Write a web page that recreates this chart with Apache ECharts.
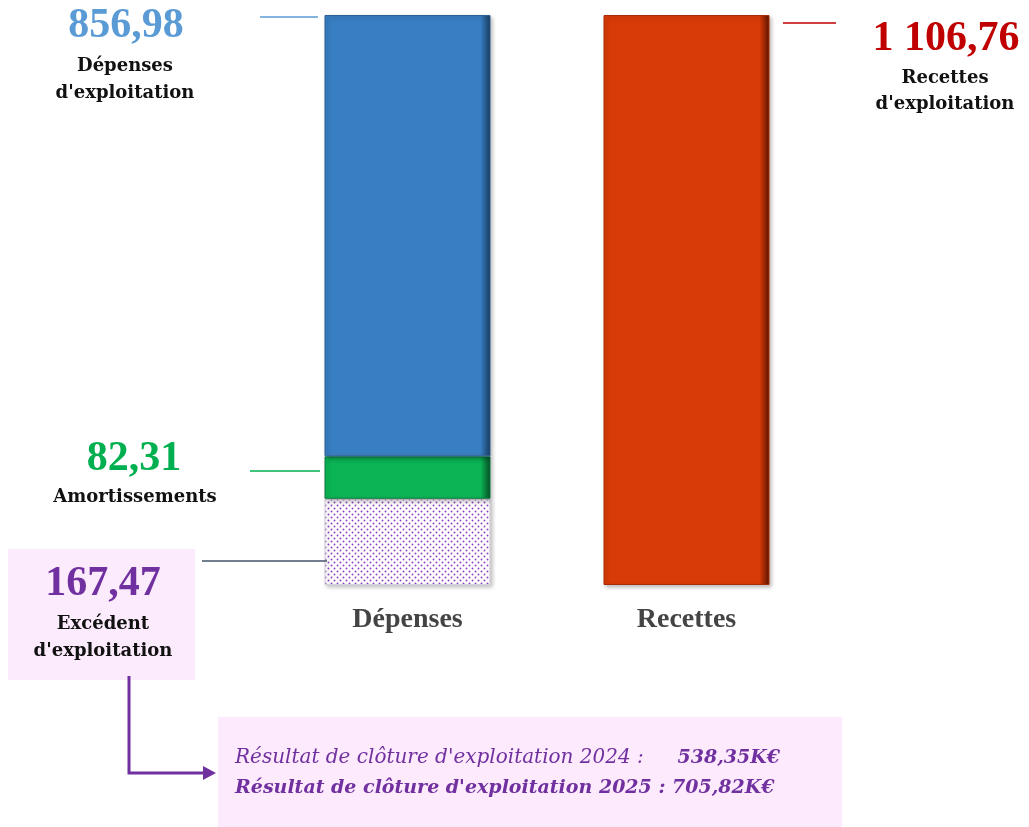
<!DOCTYPE html>
<html>
<head>
<meta charset="utf-8">
<script src="https://cdn.jsdelivr.net/npm/echarts@6/dist/echarts.min.js"></script>
<style>
html,body{margin:0;padding:0;background:#fff;}
#c{width:1029px;height:827px;}
</style>
</head>
<body>
<div id="c"></div>
<script>
// ---- data ----
const categories = ['Dépenses', 'Recettes'];
const excedent = [167.47, null];
const amortissements = [82.31, null];
const depensesExpl = [856.98, null];
const recettesExpl = [null, 1106.76];
const resultat2024 = '538,35K€';
const resultat2025 = '705,82K€';

function fr(v) {
  const parts = v.toFixed(2).split('.');
  parts[0] = parts[0].replace(/\B(?=(\d{3})+(?!\d))/g, ' ');
  return parts.join(',');
}

// dotted pattern for excédent
const pc = document.createElement('canvas');
pc.width = 6; pc.height = 6;
const px = pc.getContext('2d');
px.fillStyle = '#ffffff'; px.fillRect(0, 0, 6, 6);
px.fillStyle = '#8e44c0';
px.beginPath(); px.arc(1.5, 1.5, 0.95, 0, Math.PI * 2); px.fill();
px.beginPath(); px.arc(4.5, 4.5, 0.95, 0, Math.PI * 2); px.fill();

function bevel(c, dark) {
  return {
    type: 'linear', x: 0, y: 0, x2: 1, y2: 0,
    colorStops: [
      {offset: 0, color: c}, {offset: 0.94, color: c}, {offset: 1, color: dark}
    ]
  };
}
const shadow = {shadowColor: 'rgba(0,0,0,0.25)', shadowBlur: 4, shadowOffsetX: 2, shadowOffsetY: 2};

const total = depensesExpl[0] + amortissements[0] + excedent[0];
const chart = echarts.init(document.getElementById('c'));
const serif = '"Liberation Serif", "Times New Roman", serif';
const serif2 = '"DejaVu Serif", serif';

chart.setOption({
  animation: false,
  grid: {left: 268, right: 203, top: 15, bottom: 242},
  xAxis: {
    type: 'category', data: categories,
    axisLine: {show: false}, axisTick: {show: false},
    axisLabel: {color: '#444', fontFamily: serif, fontWeight: 'bold', fontSize: 28, margin: 21}
  },
  yAxis: {type: 'value', min: 0, max: Math.max(total, recettesExpl[1]), show: false, splitLine: {show: false}},
  series: [
    {name: 'Excédent', type: 'bar', stack: 's', barWidth: 166, data: excedent,
     itemStyle: Object.assign({color: {image: pc, repeat: 'repeat'}, borderColor: '#d8d0dc', borderWidth: 1}, shadow)},
    {name: 'Amortissements', type: 'bar', stack: 's', barWidth: 166, data: amortissements,
     itemStyle: Object.assign({color: bevel('#0bb454', '#064d25'), borderColor: '#0a7a3c', borderWidth: 1}, shadow)},
    {name: "Dépenses d'exploitation", type: 'bar', stack: 's', barWidth: 166, data: depensesExpl,
     itemStyle: Object.assign({color: bevel('#387ec2', '#173a5c'), borderColor: '#2a5f94', borderWidth: 1}, shadow)},
    {name: "Recettes d'exploitation", type: 'bar', stack: 's', barWidth: 166, data: recettesExpl,
     itemStyle: Object.assign({color: bevel('#d83a08', '#5a1300'), borderColor: '#a82c06', borderWidth: 1}, shadow)}
  ],
  graphic: [
    // boxes
    {type: 'rect', shape: {x: 8, y: 549, width: 187, height: 131}, style: {fill: '#fcebfc'}, z: 1},
    {type: 'rect', shape: {x: 218, y: 717, width: 624, height: 110}, style: {fill: '#fdebfd'}, z: 1},
    // leader lines
    {type: 'line', shape: {x1: 260, y1: 17, x2: 318, y2: 17}, style: {stroke: '#5b9bd5', lineWidth: 1.5}, z: 5},
    {type: 'line', shape: {x1: 783, y1: 23, x2: 836, y2: 23}, style: {stroke: '#c00000', lineWidth: 1.5}, z: 5},
    {type: 'line', shape: {x1: 250, y1: 471, x2: 320, y2: 471}, style: {stroke: '#00b050', lineWidth: 1.5}, z: 5},
    {type: 'line', shape: {x1: 202, y1: 561, x2: 327, y2: 561}, style: {stroke: '#44546a', lineWidth: 1.5}, z: 5},
    // arrow
    {type: 'polyline', shape: {points: [[129, 676], [129, 773], [205, 773]]}, style: {stroke: '#7030a0', lineWidth: 3, fill: null}, z: 5},
    {type: 'polygon', shape: {points: [[203, 766], [216, 773], [203, 780]]}, style: {fill: '#7030a0'}, z: 5},
    // value labels
    {type: 'text', x: 126, y: 26, z: 5, style: {text: fr(depensesExpl[0]), font: 'bold 42px ' + serif, fill: '#5b9bd5', textAlign: 'center', textVerticalAlign: 'middle'}},
    {type: 'text', x: 125, y: 66, z: 5, style: {text: 'Dépenses', font: 'bold 18px ' + serif2, fill: '#111', textAlign: 'center', textVerticalAlign: 'middle'}},
    {type: 'text', x: 125, y: 93, z: 5, style: {text: "d'exploitation", font: 'bold 18px ' + serif2, fill: '#111', textAlign: 'center', textVerticalAlign: 'middle'}},

    {type: 'text', x: 946, y: 39, z: 5, style: {text: fr(recettesExpl[1]), font: 'bold 42px ' + serif, fill: '#c00000', textAlign: 'center', textVerticalAlign: 'middle'}},
    {type: 'text', x: 945, y: 78, z: 5, style: {text: 'Recettes', font: 'bold 18px ' + serif2, fill: '#111', textAlign: 'center', textVerticalAlign: 'middle'}},
    {type: 'text', x: 945, y: 104, z: 5, style: {text: "d'exploitation", font: 'bold 18px ' + serif2, fill: '#111', textAlign: 'center', textVerticalAlign: 'middle'}},

    {type: 'text', x: 134, y: 459, z: 5, style: {text: fr(amortissements[0]), font: 'bold 42px ' + serif, fill: '#00b050', textAlign: 'center', textVerticalAlign: 'middle'}},
    {type: 'text', x: 135, y: 497, z: 5, style: {text: 'Amortissements', font: 'bold 18px ' + serif2, fill: '#111', textAlign: 'center', textVerticalAlign: 'middle'}},

    {type: 'text', x: 103, y: 584, z: 5, style: {text: fr(excedent[0]), font: 'bold 42px ' + serif, fill: '#7030a0', textAlign: 'center', textVerticalAlign: 'middle'}},
    {type: 'text', x: 103, y: 624, z: 5, style: {text: 'Excédent', font: 'bold 18px ' + serif2, fill: '#111', textAlign: 'center', textVerticalAlign: 'middle'}},
    {type: 'text', x: 103, y: 651, z: 5, style: {text: "d'exploitation", font: 'bold 18px ' + serif2, fill: '#111', textAlign: 'center', textVerticalAlign: 'middle'}},

    // bottom result text
    {type: 'text', x: 235, y: 758, z: 5, style: {text: "Résultat de clôture d'exploitation 2024 :", font: 'italic 20px ' + serif2, fill: '#7030a0', textAlign: 'left', textVerticalAlign: 'middle'}},
    {type: 'text', x: 780, y: 758, z: 5, style: {text: resultat2024, font: 'italic bold 19px ' + serif2, fill: '#7030a0', textAlign: 'right', textVerticalAlign: 'middle'}},
    {type: 'text', x: 235, y: 788, z: 5, style: {text: "Résultat de clôture d'exploitation 2025 : " + resultat2025, font: 'italic bold 19px ' + serif2, fill: '#7030a0', textAlign: 'left', textVerticalAlign: 'middle'}}
  ]
});
</script>
</body>
</html>
